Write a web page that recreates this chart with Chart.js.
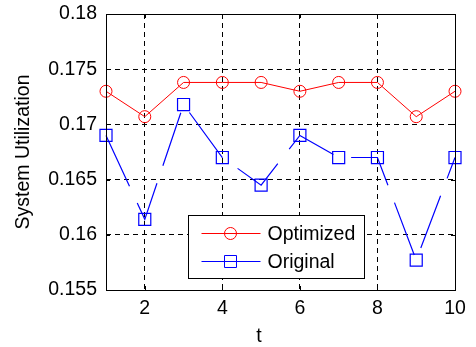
<!DOCTYPE html>
<html lang="en">
<head>
    <meta charset="UTF-8">
    <title>System Utilization</title>
    <script src="https://cdn.jsdelivr.net/npm/chart.js"></script>
    <style>
        body { margin: 0; background: #fff; }
    </style>
</head>
<body>
    <canvas id="utilChart" width="476" height="347"></canvas>

    <script>
        // data
        const tValues = [1, 2, 3, 4, 5, 6, 7, 8, 9, 10];
        const optimized = [0.1730, 0.1707, 0.1738, 0.1738, 0.1738, 0.1730, 0.1738, 0.1738, 0.1707, 0.1730];
        const original = [0.1690, 0.1614, 0.1718, 0.1670, 0.1645, 0.1690, 0.1670, 0.1670, 0.1577, 0.1670];
        const xTicks = [2, 4, 6, 8, 10];
        const yTicks = [0.155, 0.16, 0.165, 0.17, 0.175, 0.18];
        const seriesNames = ['Optimized', 'Original'];

        const FONT = { family: '"Liberation Sans", Arial, sans-serif', size: 19.5 };
        const fontStr = FONT.size + 'px ' + FONT.family;

        // box, inward ticks, x label and the legend inside the plot
        const matlabFrame = {
            id: 'matlabFrame',
            afterDraw(chart) {
                const ctx = chart.ctx;
                const a = chart.chartArea;
                const xs = chart.scales.x, ys = chart.scales.y;
                ctx.save();
                ctx.strokeStyle = '#000';
                ctx.lineWidth = 1;
                ctx.setLineDash([]);
                ctx.strokeRect(Math.round(a.left) + 0.5, Math.round(a.top) + 0.5,
                    Math.round(a.right - a.left), Math.round(a.bottom - a.top));

                ctx.beginPath();
                xTicks.forEach(v => {
                    const px = Math.round(xs.getPixelForValue(v)) + 0.5;
                    ctx.moveTo(px, a.bottom); ctx.lineTo(px, a.bottom - 4);
                    ctx.moveTo(px, a.top); ctx.lineTo(px, a.top + 4);
                });
                yTicks.forEach(v => {
                    const py = Math.round(ys.getPixelForValue(v)) + 0.5;
                    ctx.moveTo(a.left, py); ctx.lineTo(a.left + 4, py);
                    ctx.moveTo(a.right, py); ctx.lineTo(a.right - 4, py);
                });
                ctx.stroke();

                // x axis label
                ctx.fillStyle = '#000';
                ctx.font = fontStr;
                ctx.textAlign = 'center';
                ctx.textBaseline = 'middle';
                ctx.fillText('t', a.left + 153, 337);

                // legend
                const lx = Math.round(a.left + 82) + 0.5;
                const ly = Math.round(a.top + 201) + 0.5;
                ctx.fillStyle = '#fff';
                ctx.fillRect(lx, ly, 176, 63);
                ctx.strokeRect(lx, ly, 176, 63);
                const rows = [ly + 17, ly + 45];
                chart.data.datasets.forEach((ds, i) => {
                    const y = Math.round(rows[i]) + 0.5;
                    ctx.strokeStyle = ds.borderColor;
                    ctx.lineWidth = 1;
                    ctx.beginPath();
                    ctx.moveTo(lx + 13, y);
                    ctx.lineTo(lx + 72, y);
                    ctx.stroke();
                    ctx.beginPath();
                    if (ds.pointStyle === 'circle') {
                        ctx.arc(lx + 42, y, ds.pointRadius, 0, Math.PI * 2);
                    } else {
                        ctx.rect(lx + 36, y - 6, 12, 12);
                    }
                    ctx.stroke();
                    ctx.fillStyle = '#000';
                    ctx.textAlign = 'left';
                    ctx.fillText(seriesNames[i], lx + 79, y + 1);
                });
                ctx.restore();
            }
        };

        // keep the tick labels from pushing the plot box around
        function noLabelPadding(s) {
            s.paddingTop = 0;
            s.paddingBottom = 0;
            s.paddingLeft = 0;
            s.paddingRight = 0;
        }

        const ctx = document.getElementById('utilChart').getContext('2d');
        const utilChart = new Chart(ctx, {
            type: 'line',
            data: {
                datasets: [{
                    label: seriesNames[0],
                    data: tValues.map((t, i) => ({ x: t, y: optimized[i] })),
                    borderColor: '#ff0000',
                    borderWidth: 1,
                    pointStyle: 'circle',
                    pointRadius: 6,
                    pointBorderWidth: 1,
                    pointBorderColor: '#ff0000',
                    pointBackgroundColor: 'rgba(0,0,0,0)',
                    tension: 0,
                    clip: false
                }, {
                    label: seriesNames[1],
                    data: tValues.map((t, i) => ({ x: t, y: original[i] })),
                    borderColor: '#0000ff',
                    borderWidth: 1.2,
                    borderDash: [56, 18.5],
                    pointStyle: 'rect',
                    pointRadius: 8.5,
                    pointBorderWidth: 1.2,
                    pointBorderColor: '#0000ff',
                    pointBackgroundColor: 'rgba(0,0,0,0)',
                    tension: 0,
                    clip: false
                }]
            },
            options: {
                responsive: false,
                animation: false,
                layout: { padding: { top: 14, right: 21, left: 0, bottom: 0 } },
                plugins: {
                    legend: { display: false },
                    tooltip: { enabled: false }
                },
                scales: {
                    x: {
                        type: 'linear',
                        min: 1,
                        max: 10,
                        afterBuildTicks: s => { s.ticks = xTicks.map(v => ({ value: v })); },
                        afterFit: s => { s.height = 57; noLabelPadding(s); },
                        grid: { color: '#000', lineWidth: 1, drawTicks: false },
                        border: { display: false, dash: [5, 4] },
                        ticks: { color: '#000', font: FONT, padding: 7, maxRotation: 0 }
                    },
                    y: {
                        type: 'linear',
                        min: 0.155,
                        max: 0.18,
                        afterBuildTicks: s => { s.ticks = yTicks.map(v => ({ value: v })); },
                        afterFit: s => { s.width = 106; noLabelPadding(s); },
                        grid: { color: '#000', lineWidth: 1, drawTicks: false },
                        border: { display: false, dash: [5, 4] },
                        ticks: {
                            color: '#000',
                            font: FONT,
                            padding: 9,
                            callback: v => String(+v.toFixed(3))
                        },
                        title: {
                            display: true,
                            text: 'System Utilization',
                            color: '#000',
                            font: FONT,
                            padding: { top: 12, bottom: 0 }
                        }
                    }
                }
            },
            plugins: [matlabFrame]
        });
    </script>
</body>
</html>
